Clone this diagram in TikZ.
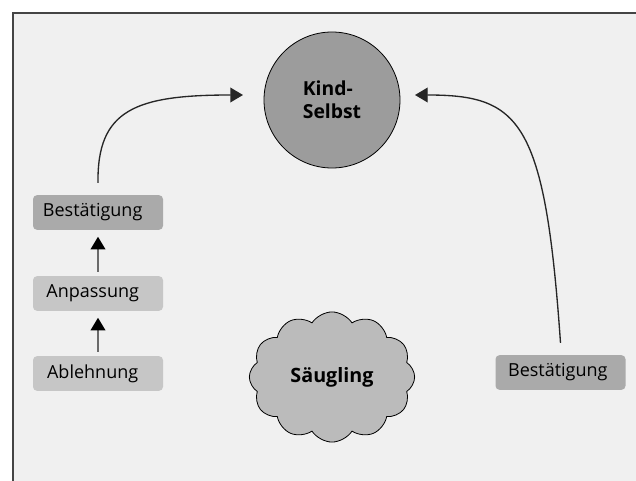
\documentclass[tikz,border=0pt]{standalone}
\usepackage{fontspec}
\setmainfont{Open Sans}
\usetikzlibrary{arrows.meta,shapes.symbols}
\definecolor{bgc}{HTML}{F0F0F0}
\definecolor{framec}{HTML}{444444}
\definecolor{circc}{HTML}{9C9C9C}
\definecolor{cloudc}{HTML}{BBBBBB}
\definecolor{darkbox}{HTML}{AAAAAA}
\definecolor{lightbox}{HTML}{C6C6C6}
\definecolor{shaft}{HTML}{6A6A6A}
\tikzset{
  boxbase/.style={rectangle, rounded corners=3pt, inner sep=0pt,
    minimum width=97.5pt, minimum height=26pt,
    font=\fontsize{13.5}{16}\selectfont},
  darkstep/.style={boxbase, fill=darkbox},
  lightstep/.style={boxbase, fill=lightbox},
  selfnode/.style={circle, draw=black, line width=0.6pt, fill=circc,
    minimum size=102pt, inner sep=0pt, align=left,
    font=\bfseries\fontsize{14.5}{17.5}\selectfont},
  cloudnode/.style={cloud, cloud puffs=12, cloud puff arc=115, draw=black,
    line width=0.6pt, fill=cloudc, minimum width=124pt, minimum height=86pt,
    inner sep=0pt, font=\bfseries\fontsize{14.8}{17.5}\selectfont},
  bigarrow/.style={draw=black!85, line width=1pt,
    -{Triangle[length=9.5pt,width=11pt]}},
  smallarrow/.style={draw=shaft, line width=1.5pt,
    -{Triangle[length=9.5pt,width=11pt,color=black]}}
}
\begin{document}
\begin{tikzpicture}[x=0.75pt,y=-0.75pt]
\useasboundingbox (0,0) rectangle (636,481);
\fill[white] (0,0) rectangle (636,481);
\fill[bgc] (13,13) rectangle (636,481);
\draw[framec, line width=1.5pt] (13,481) -- (13,13) -- (636,13);

\node[selfnode] (kb) at (332,100) {Kind-\\Selbst};
\node[cloudnode] (sg) at (332,377) {Säugling};

\node[darkstep]  (b1) at (98,212.5) {\hspace*{-8pt}Bestätigung};
\node[lightstep] (a1) at (98,293.5) {\hspace*{-8pt}Anpassung};
\node[lightstep] (l1) at (98,373.5) {\hspace*{-8pt}Ablehnung};
\node[darkstep]  (b2) at (560.5,372.5) {\hspace*{-4pt}Bestätigung};

\coordinate (lt) at (243,95);
\coordinate (rt) at (415,95);

\draw[smallarrow, shorten <=3pt, shorten >=5pt] (l1.north) -- (a1.south);
\draw[smallarrow, shorten <=3pt, shorten >=5pt] (a1.north) -- (b1.south);

\draw[bigarrow] ([yshift=9pt]b1.north) .. controls (97,110) and (135,95) .. (lt);
\draw[bigarrow] ([yshift=9pt]b2.north) .. controls (545,120) and (520,95) .. (rt);
\end{tikzpicture}
\end{document}
